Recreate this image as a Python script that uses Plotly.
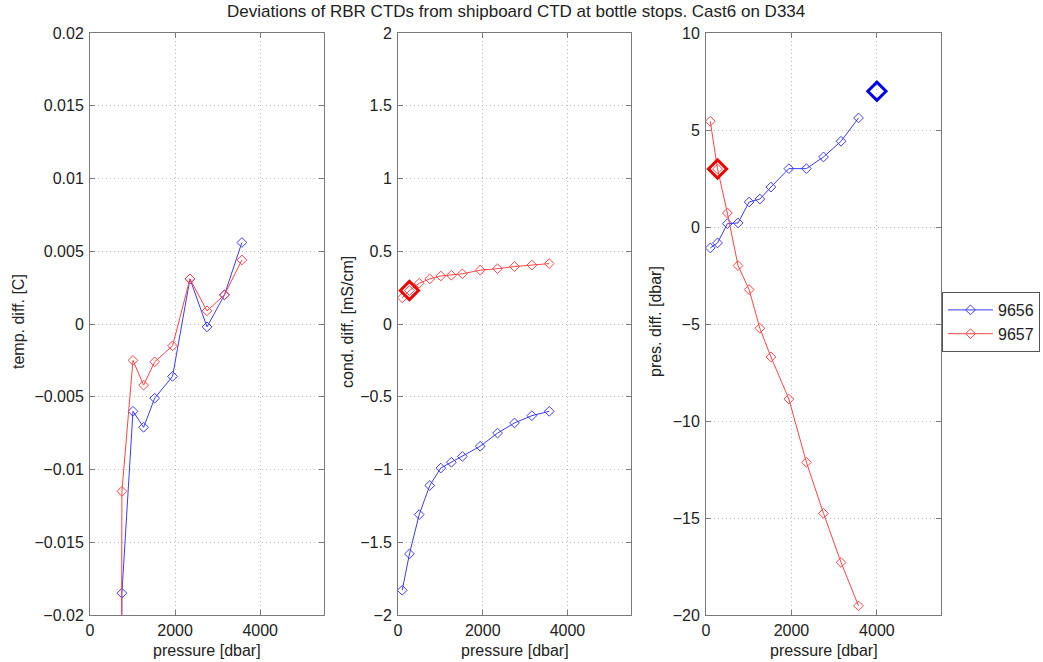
import plotly.graph_objects as go

W, H = 1043, 662

# Bottle-stop pressures [dbar]
pressure = [100, 270, 500, 750, 1010, 1260, 1520, 1940, 2350, 2750, 3160, 3570]

# Temperature deviations [C] (shallow stops fall far below the plotted range)
temp_9656 = [-0.62, -0.50, -0.36, -0.0185, -0.0060, -0.0071, -0.0051, -0.0036,
             0.0031, -0.0002, 0.0020, 0.0056]
temp_9657 = [-0.55, -0.44, -0.30, -0.0115, -0.0025, -0.0042, -0.0026, -0.0015,
             0.0031, 0.0009, 0.0020, 0.0044]

# Conductivity deviations [mS/cm]
cond_9656 = [-1.83, -1.58, -1.31, -1.11, -0.99, -0.95, -0.91, -0.84,
             -0.75, -0.68, -0.63, -0.60]
cond_9657 = [0.18, 0.23, 0.28, 0.31, 0.33, 0.335, 0.345, 0.37,
             0.38, 0.395, 0.405, 0.415]

# Pressure deviations [dbar]
pres_9656 = [-1.08, -0.82, 0.17, 0.21, 1.29, 1.44, 2.06, 3.01,
             3.01, 3.61, 4.42, 5.62]
pres_9657 = [5.45, 2.99, 0.72, -1.99, -3.23, -5.22, -6.70, -8.87,
             -12.13, -14.76, -17.29, -19.53]

# Highlighted points
hl_cond_9657_p, hl_cond_9657_v = [270], [0.23]
hl_pres_9657_p, hl_pres_9657_v = [270], [2.99]
hl_pres_9656_p, hl_pres_9656_v = [4000], [7.0]

x_ticks = [0, 2000, 4000]
temp_ticks = [0.02, 0.015, 0.01, 0.005, 0, -0.005, -0.01, -0.015, -0.02]
cond_ticks = [2, 1.5, 1, 0.5, 0, -0.5, -1, -1.5, -2]
pres_ticks = [10, 5, 0, -5, -10, -15, -20]

BLUE = "rgb(60,60,255)"
RED = "rgb(255,70,70)"
FONT = "Liberation Sans, Arial, Helvetica, sans-serif"
AXC = "#7a7a7a"


def fmt(v):
    s = ("%g" % v)
    return s.replace("-", "\u2212")


fig = go.Figure()

panels = [
    (temp_9656, temp_9657, "x", "y"),
    (cond_9656, cond_9657, "x2", "y2"),
    (pres_9656, pres_9657, "x3", "y3"),
]
for i, (b, r, xa, ya) in enumerate(panels):
    fig.add_trace(go.Scatter(
        x=pressure, y=b, mode="lines+markers", name="9656",
        legendgroup="9656", showlegend=(i == 0), xaxis=xa, yaxis=ya,
        line=dict(color=BLUE, width=1),
        marker=dict(symbol="diamond-open", size=7.5, color=BLUE,
                    line=dict(width=1, color=BLUE))))
    fig.add_trace(go.Scatter(
        x=pressure, y=r, mode="lines+markers", name="9657",
        legendgroup="9657", showlegend=(i == 0), xaxis=xa, yaxis=ya,
        line=dict(color=RED, width=1),
        marker=dict(symbol="diamond-open", size=7.5, color=RED,
                    line=dict(width=1, color=RED))))

big = [
    (hl_cond_9657_p, hl_cond_9657_v, "#ee0000", "x2", "y2"),
    (hl_pres_9657_p, hl_pres_9657_v, "#ee0000", "x3", "y3"),
    (hl_pres_9656_p, hl_pres_9656_v, "#0000ee", "x3", "y3"),
]
for px, pv, c, xa, ya in big:
    fig.add_trace(go.Scatter(
        x=px, y=pv, mode="markers", showlegend=False, xaxis=xa, yaxis=ya,
        marker=dict(symbol="diamond-open", size=14, color=c,
                    line=dict(width=3, color=c))))


def axis_common():
    return dict(showline=True, linecolor=AXC, linewidth=1, mirror="ticks",
                ticks="inside", ticklen=5, tickcolor=AXC,
                showgrid=True, gridcolor="#bbbbbb", griddash="1px,3px", gridwidth=1,
                zeroline=False, automargin=False,
                tickfont=dict(family=FONT, size=16, color="#222"))


x_domains = [(90, 324), (398, 631), (706, 941)]
y_dom = [1 - 615 / H, 1 - 33 / H]
y_specs = [([-0.02, 0.02], temp_ticks), ([-2, 2], cond_ticks), ([-20, 10], pres_ticks)]

layout_axes = {}
for i in range(3):
    xs = "xaxis" if i == 0 else "xaxis%d" % (i + 1)
    ys = "yaxis" if i == 0 else "yaxis%d" % (i + 1)
    xa = "x" if i == 0 else "x%d" % (i + 1)
    ya = "y" if i == 0 else "y%d" % (i + 1)
    d0, d1 = x_domains[i]
    layout_axes[xs] = dict(axis_common(), domain=[d0 / W, d1 / W], range=[0, 5500],
                           tickvals=x_ticks, ticktext=[fmt(v) for v in x_ticks],
                           ticklabelstandoff=1, anchor=ya)
    rng, tv = y_specs[i]
    layout_axes[ys] = dict(axis_common(), domain=y_dom, range=rng,
                           tickvals=tv, ticktext=[fmt(v) for v in tv],
                           ticklabelstandoff=2, anchor=xa)

annotations = [
    dict(text="Deviations of RBR CTDs from shipboard CTD at bottle stops. Cast6 on D334",
         x=516 / W, y=1 - 12 / H, xref="paper", yref="paper",
         xanchor="center", yanchor="middle", showarrow=False,
         font=dict(family=FONT, size=17, color="#222")),
]
y_titles = [("temp. diff. [C]", 18), ("cond. diff. [mS/cm]", 347), ("pres. diff. [dbar]", 655)]
for t, xp in y_titles:
    annotations.append(dict(text=t, x=xp / W, y=1 - 322 / H, xref="paper", yref="paper",
                            xanchor="center", yanchor="middle", textangle=-90,
                            showarrow=False, font=dict(family=FONT, size=16, color="#222")))
for d0, d1 in x_domains:
    annotations.append(dict(text="pressure [dbar]", x=(d0 + d1) / 2 / W, y=1 - 650 / H,
                            xref="paper", yref="paper", xanchor="center", yanchor="middle",
                            showarrow=False, font=dict(family=FONT, size=16, color="#222")))

fig.update_layout(
    width=W, height=H,
    margin=dict(l=0, r=0, t=0, b=0, autoexpand=False),
    paper_bgcolor="white", plot_bgcolor="white",
    font=dict(family=FONT, size=16, color="#222"),
    showlegend=True,
    legend=dict(x=942 / W, y=1 - 292 / H, xanchor="left", yanchor="top",
                bgcolor="white", bordercolor="#555", borderwidth=1,
                font=dict(family=FONT, size=16, color="#222"),
                itemwidth=45, tracegroupgap=0),
    annotations=annotations,
    **layout_axes,
)

fig.write_html("out.html")
